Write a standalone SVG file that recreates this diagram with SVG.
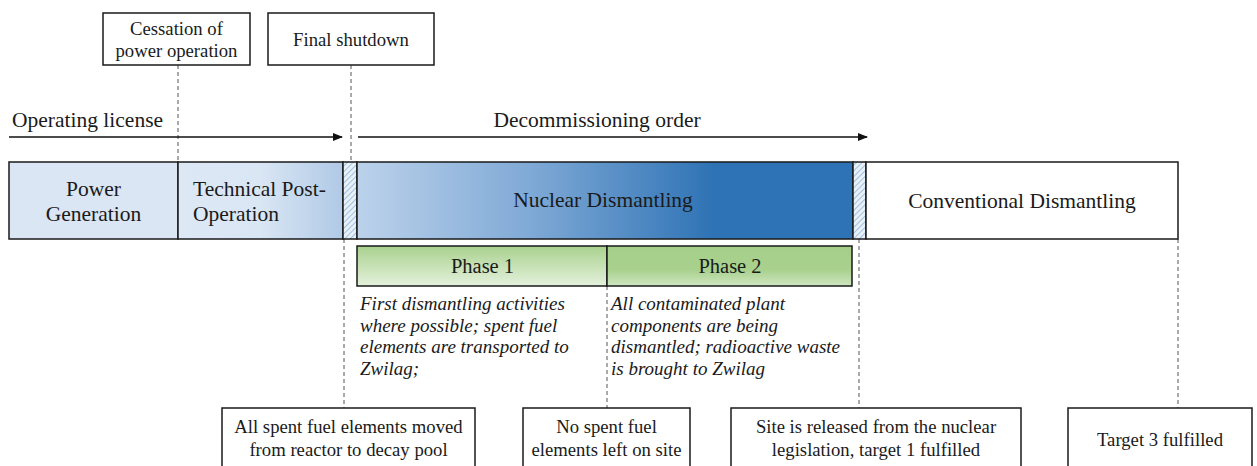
<svg xmlns="http://www.w3.org/2000/svg" width="1257" height="466" viewBox="0 0 1257 466">
<style>
text{font-family:"Liberation Serif","Times New Roman",serif;fill:#1a1a1a}
.lab{font-size:21.5px}
.bt{font-size:21.5px}
.ph{font-size:20.5px}
.bx{font-size:18.7px}
.it{font-size:19px;font-style:italic}
.box{fill:#fff;stroke:#1a1a1a;stroke-width:1.5}
.bar{stroke:#1a1a1a;stroke-width:1.5}
.dash{stroke:#555;stroke-width:1;stroke-dasharray:4 3;fill:none}
.arr{stroke:#111;stroke-width:1.6;fill:none;marker-end:url(#ah)}
</style>
<defs>
<marker id="ah" markerWidth="10" markerHeight="8" refX="9" refY="4" orient="auto" markerUnits="userSpaceOnUse">
<path d="M0,0 L10,4 L0,8 Z" fill="#111"/>
</marker>
<linearGradient id="gTech" x1="0" y1="0" x2="1" y2="0">
<stop offset="0" stop-color="#dde8f5"/>
<stop offset="0.5" stop-color="#d9e6f4"/>
<stop offset="1" stop-color="#b0c9e6"/>
</linearGradient>
<linearGradient id="gNuc" x1="0" y1="0" x2="1" y2="0">
<stop offset="0" stop-color="#bcd2eb"/>
<stop offset="0.35" stop-color="#7fa9d6"/>
<stop offset="0.72" stop-color="#2e73b5"/>
<stop offset="1" stop-color="#2e73b5"/>
</linearGradient>
<linearGradient id="gP1" x1="0" y1="0" x2="0" y2="1">
<stop offset="0" stop-color="#a9d18e"/>
<stop offset="1" stop-color="#e4f1dc"/>
</linearGradient>
<linearGradient id="gP2" x1="0" y1="0" x2="0" y2="1">
<stop offset="0" stop-color="#a5cf89"/>
<stop offset="0.6" stop-color="#a9d18e"/>
<stop offset="1" stop-color="#cfe6c1"/>
</linearGradient>
<pattern id="hatch" patternUnits="userSpaceOnUse" width="4" height="4" patternTransform="rotate(45)">
<rect width="4" height="4" fill="#e8f0f8"/>
<line x1="0" y1="0" x2="0" y2="4" stroke="#8fb3d9" stroke-width="1.6"/>
</pattern>
</defs>

<g id="connectors">
<line class="dash" x1="178" y1="65" x2="178" y2="162"/>
<line class="dash" x1="351" y1="65" x2="351" y2="162"/>
<line class="dash" x1="344" y1="239" x2="344" y2="408"/>
<line class="dash" x1="607" y1="286" x2="607" y2="408"/>
<line class="dash" x1="859" y1="239" x2="859" y2="408"/>
<line class="dash" x1="1178" y1="239" x2="1178" y2="408"/>
<line class="arr" x1="9" y1="137" x2="342" y2="137"/>
<line class="arr" x1="358" y1="137" x2="867" y2="137"/>
</g>

<g id="label-operating">
<text class="lab" x="12" y="127">Operating license</text>
</g>
<g id="label-decommissioning">
<text class="lab" x="597" y="127" text-anchor="middle">Decommissioning order</text>
</g>

<g id="cessation">
<rect class="box" x="103" y="13" width="147" height="52"/>
<text class="bx" x="176.5" y="35" text-anchor="middle">Cessation of</text>
<text class="bx" x="176.5" y="57" text-anchor="middle">power operation</text>
</g>
<g id="final-shutdown">
<rect class="box" x="268" y="13" width="166" height="52"/>
<text class="bx" x="351" y="46" text-anchor="middle">Final shutdown</text>
</g>

<g id="power-generation">
<rect class="bar" x="9" y="162" width="169" height="77" fill="#dae6f4"/>
<text class="bt" x="93.5" y="196" text-anchor="middle">Power</text>
<text class="bt" x="93.5" y="221" text-anchor="middle">Generation</text>
</g>
<g id="technical-post-operation">
<rect class="bar" x="178" y="162" width="165" height="77" fill="url(#gTech)"/>
<text class="bt" x="193" y="196">Technical Post-</text>
<text class="bt" x="193" y="221">Operation</text>
</g>
<g id="hatch-1">
<rect class="bar" x="343" y="162" width="14" height="77" fill="url(#hatch)"/>
</g>
<g id="nuclear-dismantling">
<rect class="bar" x="357" y="162" width="496" height="77" fill="url(#gNuc)"/>
<text class="bt" x="603" y="207" text-anchor="middle">Nuclear Dismantling</text>
</g>
<g id="hatch-2">
<rect class="bar" x="853" y="162" width="13" height="77" fill="url(#hatch)"/>
</g>
<g id="conventional-dismantling">
<rect class="bar" x="866" y="162" width="312" height="77" fill="#fff"/>
<text class="bt" x="1022" y="208" text-anchor="middle">Conventional Dismantling</text>
</g>

<g id="phase-1">
<rect class="bar" x="357" y="246" width="250" height="40" fill="url(#gP1)"/>
<text class="ph" x="482.5" y="273" text-anchor="middle">Phase 1</text>
<text class="it" x="360" y="310">First dismantling activities</text>
<text class="it" x="360" y="332">where possible; spent fuel</text>
<text class="it" x="360" y="353">elements are transported to</text>
<text class="it" x="360" y="375">Zwilag;</text>
</g>
<g id="phase-2">
<rect class="bar" x="607" y="246" width="245" height="40" fill="url(#gP2)"/>
<text class="ph" x="730" y="273" text-anchor="middle">Phase 2</text>
<text class="it" x="611" y="310">All contaminated plant</text>
<text class="it" x="611" y="332">components are being</text>
<text class="it" x="611" y="353">dismantled; radioactive waste</text>
<text class="it" x="611" y="375">is brought to Zwilag</text>
</g>

<g id="milestone-1">
<rect class="box" x="222" y="408" width="253" height="62"/>
<text class="bx" x="348.5" y="433" text-anchor="middle">All spent fuel elements moved</text>
<text class="bx" x="348.5" y="456" text-anchor="middle">from reactor to decay pool</text>
</g>
<g id="milestone-2">
<rect class="box" x="523" y="408" width="167" height="62"/>
<text class="bx" x="606.5" y="433" text-anchor="middle">No spent fuel</text>
<text class="bx" x="606.5" y="456" text-anchor="middle">elements left on site</text>
</g>
<g id="milestone-3">
<rect class="box" x="731" y="408" width="290" height="62"/>
<text class="bx" x="876" y="433" text-anchor="middle">Site is released from the nuclear</text>
<text class="bx" x="876" y="456" text-anchor="middle">legislation, target 1 fulfilled</text>
</g>
<g id="milestone-4">
<rect class="box" x="1068" y="408" width="184" height="62"/>
<text class="bx" x="1160" y="446" text-anchor="middle">Target 3 fulfilled</text>
</g>
</svg>
